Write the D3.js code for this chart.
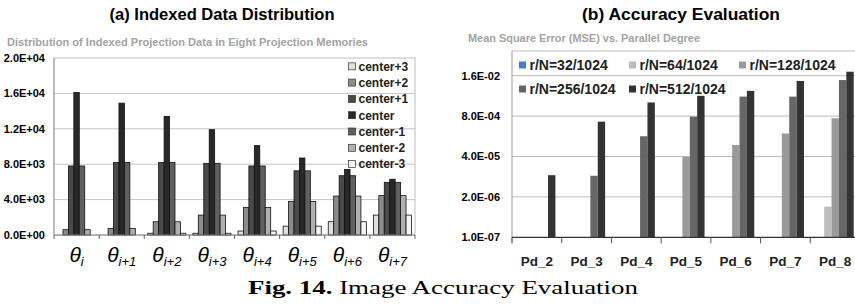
<!DOCTYPE html>
<html><head><meta charset="utf-8">
<script src="https://cdn.jsdelivr.net/npm/d3@7"></script>
<style>body{margin:0;background:#fff}svg{display:block}</style>
</head><body>
<svg id="c" width="855" height="307"></svg>
<script>
// ---------- Data: (a) Indexed Data Distribution ----------
const thetaSubs = ["i","i+1","i+2","i+3","i+4","i+5","i+6","i+7"];
const distSeries = ["center+3","center+2","center+1","center","center-1","center-2","center-3"];
const distColors = ["#e0e0e0","#8c8c8c","#4a4a4a","#282828","#606060","#b0b0b0","#f4f4f4"];
const centerP3 = [0, 0, 200, 200, 450, 1000, 1500, 2250];
const centerP2 = [600, 750, 1500, 2250, 3100, 3800, 4400, 4450];
const centerP1 = [7800, 8200, 8200, 8100, 7800, 7250, 6700, 5950];
const centerV  = [16100, 14900, 13400, 11900, 10100, 8700, 7400, 6300];
const centerM1 = [7800, 8200, 8200, 8100, 7800, 7250, 6700, 5950];
const centerM2 = [600, 750, 1500, 2250, 3100, 3800, 4400, 4450];
const centerM3 = [0, 0, 200, 200, 450, 1000, 1500, 2250];
const distTicks = [0, 4000, 8000, 12000, 16000, 20000];
const distTickLabels = ["0.0E+00","4.0E+03","8.0E+03","1.2E+04","1.6E+04","2.0E+04"];

// ---------- Data: (b) Accuracy Evaluation ----------
const pdCats = ["Pd_2","Pd_3","Pd_4","Pd_5","Pd_6","Pd_7","Pd_8"];
const accSeries = ["r/N=32/1024","r/N=64/1024","r/N=128/1024","r/N=256/1024","r/N=512/1024"];
const accColors = ["#4a7cc7","#bdbdbd","#9a9a9a","#666666","#333333"];
const rN32  = [null, null, null, null, null, null, null];
const rN64  = [null, null, null, null, null, null, 9.7e-7];
const rN128 = [null, null, null, 3.9e-5, 9.4e-5, 2.2e-4, 6.8e-4];
const rN256 = [null, 9.6e-6, 1.8e-4, 7.7e-4, 3.4e-3, 3.4e-3, 1.16e-2];
const rN512 = [1.0e-5, 5.3e-4, 2.2e-3, 3.6e-3, 5.2e-3, 1.08e-2, 2.15e-2];
const accTicks = [1e-7, 2e-6, 4e-5, 8e-4, 1.6e-2];
const accTickLabels = ["1.0E-07","2.0E-06","4.0E-05","8.0E-04","1.6E-02"];

const svg = d3.select("#c");
const SANS = "'Liberation Sans', Arial, sans-serif";

// ================= Panel (a) =================
const distData = [centerP3, centerP2, centerP1, centerV, centerM1, centerM2, centerM3];
const a = {l:54, r:415, t:58, b:235};
const xA = d3.scaleBand().domain(thetaSubs).range([a.l, a.r]);
const xAi = d3.scaleBand().domain(distSeries).range([3.5, xA.bandwidth()-3.5]);
const yA = d3.scaleLinear().domain([0, 20000]).range([a.b, a.t]);

svg.append("text").attr("x", 222).attr("y", 20).attr("text-anchor","middle")
  .attr("font-family", SANS).attr("font-weight","bold").attr("font-size", 17)
  .attr("textLength", 225).attr("lengthAdjust","spacingAndGlyphs")
  .text("(a)  Indexed Data Distribution");
svg.append("text").attr("x", 7).attr("y", 46)
  .attr("font-family", SANS).attr("font-weight","bold").attr("font-size", 11.5)
  .attr("fill","#a3a3a3").attr("textLength", 361).attr("lengthAdjust","spacingAndGlyphs")
  .text("Distribution of Indexed Projection Data in  Eight Projection Memories");

const gA = svg.append("g");
gA.append("rect").attr("x", a.l).attr("y", a.t).attr("width", a.r-a.l).attr("height", a.b-a.t)
  .attr("fill","none").attr("stroke","#bdbdbd");
gA.selectAll(".gridA").data(distTicks.slice(1, -1)).join("line")
  .attr("x1", a.l).attr("x2", a.r).attr("y1", d=>yA(d)).attr("y2", d=>yA(d))
  .attr("stroke","#c4c4c4");
gA.selectAll(".ylA").data(distTicks).join("text")
  .attr("x", 45).attr("y", d=>yA(d)).attr("dy","0.35em").attr("text-anchor","end")
  .attr("font-family", SANS).attr("font-weight","bold").attr("font-size", 11)
  .text((d,i)=>distTickLabels[i]);
distSeries.forEach((s, si) => {
  gA.selectAll(".bA"+si).data(distData[si]).join("rect")
    .attr("x", (d,i)=>xA(thetaSubs[i]) + xAi(s))
    .attr("width", xAi.bandwidth())
    .attr("y", d=>yA(d)).attr("height", d=>yA(0)-yA(d))
    .attr("fill", distColors[si]).attr("stroke","#111").attr("stroke-width",0.8)
    .attr("display", d=> d>0 ? null : "none");
});
gA.append("line").attr("x1", a.l).attr("x2", a.l).attr("y1", a.t).attr("y2", a.b).attr("stroke","#999");
gA.append("line").attr("x1", a.l).attr("x2", a.r).attr("y1", a.b).attr("y2", a.b).attr("stroke","#888");
const bA = thetaSubs.map(c=>xA(c)).concat([a.r]);
gA.selectAll(".tkA").data(bA).join("line")
  .attr("x1", d=>d).attr("x2", d=>d).attr("y1", a.b).attr("y2", a.b+4).attr("stroke","#666");
const xl = gA.selectAll(".xlA").data(thetaSubs).join("text")
  .attr("x", d=>xA(d)+xA.bandwidth()/2).attr("y", 262).attr("text-anchor","middle")
  .attr("font-family", SANS).attr("font-style","italic");
xl.append("tspan").attr("font-size", 21).text("θ");
xl.append("tspan").attr("font-size", 13).attr("dy", 4).text(d=>d);
const legA = gA.selectAll(".lgA").data(distSeries).join("g")
  .attr("transform", (d,i)=>`translate(348.5, ${66.3 + i*16.3})`);
legA.append("rect").attr("x",0).attr("y",-3.5).attr("width",7).attr("height",7)
  .attr("fill",(d,i)=>distColors[i]).attr("stroke","#333").attr("stroke-width",0.7);
legA.append("text").attr("x",10).attr("y",0).attr("dy","0.36em")
  .attr("font-family", SANS).attr("font-weight","bold").attr("font-size", 12)
  .attr("fill","#222").text(d=>d);

// ================= Panel (b) =================
const accData = [rN32, rN64, rN128, rN256, rN512];
const b = {l:512, r:860, t:51, b:237.3};
const xB = d3.scaleBand().domain(pdCats).range([b.l, b.r]);
const xBi = d3.scaleBand().domain(accSeries).range([6.5, xB.bandwidth()-6.3]);
const yB = d3.scaleLog().domain([1e-7, 1.6e-2]).range([b.b, 75.7]);

svg.append("text").attr("x", 681).attr("y", 20).attr("text-anchor","middle")
  .attr("font-family", SANS).attr("font-weight","bold").attr("font-size", 17)
  .attr("textLength", 198).attr("lengthAdjust","spacingAndGlyphs")
  .text("(b) Accuracy Evaluation");
svg.append("text").attr("x", 468).attr("y", 42)
  .attr("font-family", SANS).attr("font-weight","bold").attr("font-size", 11.5)
  .attr("fill","#a3a3a3").attr("textLength", 232).attr("lengthAdjust","spacingAndGlyphs")
  .text("Mean Square Error (MSE) vs. Parallel Degree");

const gB = svg.append("g");
gB.append("clipPath").attr("id","clipB").append("rect")
  .attr("x", b.l).attr("y", b.t).attr("width", b.r-b.l).attr("height", b.b-b.t);
gB.append("line").attr("x1", b.l).attr("x2", 855).attr("y1", b.t).attr("y2", b.t).attr("stroke","#bdbdbd");
gB.selectAll(".gridB").data(accTicks.slice(1)).join("line")
  .attr("x1", b.l).attr("x2", 855).attr("y1", d=>yB(d)).attr("y2", d=>yB(d))
  .attr("stroke","#bcbcbc");
gB.selectAll(".ylB").data(accTicks).join("text")
  .attr("x", 500).attr("y", d=>yB(d)).attr("dy","0.35em").attr("text-anchor","end")
  .attr("font-family", SANS).attr("font-weight","bold").attr("font-size", 11)
  .text((d,i)=>accTickLabels[i]);
const barsB = gB.append("g").attr("clip-path","url(#clipB)");
accSeries.forEach((s, si) => {
  barsB.selectAll(".bB"+si).data(accData[si]).join("rect")
    .attr("x", (d,i)=>xB(pdCats[i]) + xBi(s))
    .attr("width", xBi.bandwidth())
    .attr("y", d=> d ? yB(d) : b.b).attr("height", d=> d ? b.b - yB(d) : 0)
    .attr("fill", accColors[si])
    .attr("display", d=> d ? null : "none");
});
gB.append("line").attr("x1", b.l).attr("x2", b.l).attr("y1", b.t).attr("y2", b.b+6).attr("stroke","#999");
gB.append("line").attr("x1", b.l).attr("x2", 855).attr("y1", b.b).attr("y2", b.b).attr("stroke","#333").attr("stroke-width",1.2);
gB.selectAll(".tkB").data(pdCats.map(c=>xB(c))).join("line")
  .attr("x1", d=>d).attr("x2", d=>d).attr("y1", b.b).attr("y2", b.b+6).attr("stroke","#555");
gB.selectAll(".xlB").data(pdCats).join("text")
  .attr("x", d=>xB(d)+xB.bandwidth()/2).attr("y", 266).attr("text-anchor","middle")
  .attr("font-family", SANS).attr("font-weight","bold").attr("font-size", 13.5)
  .attr("fill","#222").text(d=>d);
const legPos = [[519,65],[629,65],[739,65],[519,89],[629,89]];
const legB = gB.selectAll(".lgB").data(accSeries).join("g")
  .attr("transform", (d,i)=>`translate(${legPos[i][0]}, ${legPos[i][1]})`);
legB.append("rect").attr("x",0).attr("y",-3.5).attr("width",7).attr("height",7)
  .attr("fill",(d,i)=>accColors[i]);
legB.append("text").attr("x",10.5).attr("y",0).attr("dy","0.36em")
  .attr("font-family", SANS).attr("font-weight","bold").attr("font-size", 14)
  .attr("fill","#222").text(d=>d);

// ================= Caption =================
const cap = svg.append("text").attr("x", 248).attr("y", 294)
  .attr("font-family","'Liberation Serif', 'DejaVu Serif', serif").attr("font-size", 18)
  .attr("textLength", 390).attr("lengthAdjust","spacingAndGlyphs");
cap.append("tspan").attr("font-weight","bold").text("Fig. 14.");
cap.append("tspan").text(" Image Accuracy Evaluation");
</script>
</body></html>
